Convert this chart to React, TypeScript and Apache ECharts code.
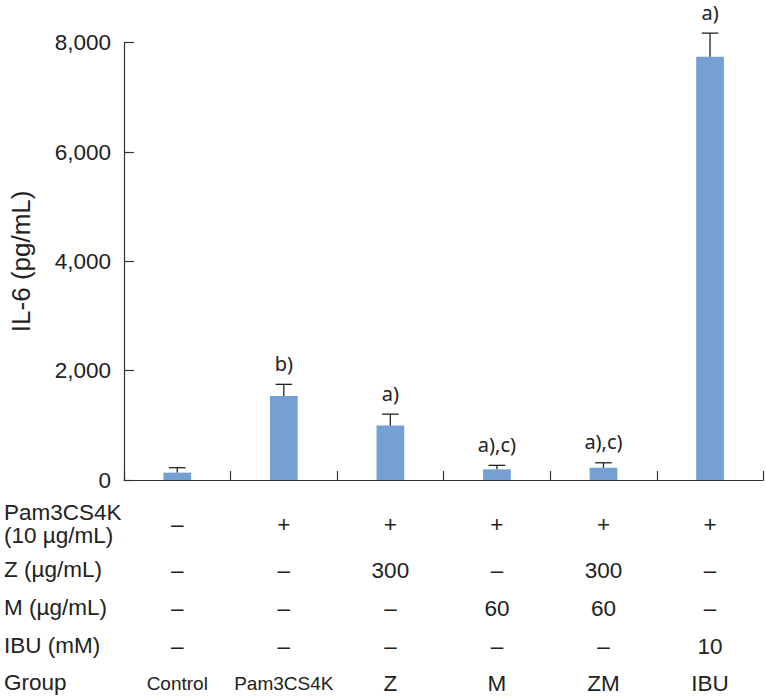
import React, { useEffect, useRef } from "react";
import * as echarts from "echarts";

const categories = ["Control", "Pam3CS4K", "Z", "M", "ZM", "IBU"];
const il6Mean = [135, 1535, 995, 195, 225, 7745];
const il6ErrTop = [225, 1750, 1205, 268, 315, 8175];
const sigLabels = ["", "b)", "a)", "a),c)", "a),c)", "a)"];
const yTicks = [0, 2000, 4000, 6000, 8000];

const rowPam = ["–", "+", "+", "+", "+", "+"];
const rowZ = ["–", "–", "300", "–", "300", "–"];
const rowM = ["–", "–", "–", "60", "60", "–"];
const rowIBU = ["–", "–", "–", "–", "–", "10"];
const rowGroup = categories;
const rowTitles = ["Pam3CS4K\n(10 µg/mL)", "Z (µg/mL)", "M (µg/mL)", "IBU (mM)", "Group"];

const FONT = "'Liberation Sans', Arial, sans-serif";
const TEXT = "#222";
const BAR = "#74a0d4";

export default function App() {
  const ref = useRef<HTMLDivElement>(null);
  useEffect(() => {
    if (!ref.current) return;
    const chart = echarts.init(ref.current, undefined, { renderer: "svg" });
    const gridTop = 42.7;
    const gridBottom = 219;
    const baseY = 699 - gridBottom;
    const rowCenters = [524, 570, 608, 646, 683];
    const tableRows = [rowPam, rowZ, rowM, rowIBU, rowGroup];
    const lh = 24;

    const tableAxes = tableRows.map((row, i) => ({
      type: "category",
      gridIndex: 0,
      position: "bottom",
      offset: rowCenters[i] - baseY - lh / 2,
      data: row,
      axisLine: { show: false },
      axisTick: { show: false },
      axisLabel: {
        show: true,
        interval: 0,
        margin: 0,
        color: TEXT,
        fontFamily: FONT,
        fontSize: 22.5,
        lineHeight: lh,
        formatter: (v: string) =>
          i === 4 && (v === "Control" || v === "Pam3CS4K") ? `{s|${v}}` : v,
        rich: { s: { fontSize: 19, fontFamily: FONT, color: TEXT, lineHeight: lh } },
      },
    }));

    const rowLabelGraphics = rowTitles.map((t, i) => ({
      type: "text",
      left: 4,
      top: i === 0 ? rowCenters[0] - 23 : rowCenters[i] - 12,
      style: {
        text: t,
        font: `22.5px ${FONT}`,
        fill: TEXT,
        lineHeight: 23,
      },
    }));

    chart.setOption({
      animation: false,
      grid: { left: 123.3, right: 2.7, top: gridTop, bottom: gridBottom, containLabel: false },
      xAxis: [
        {
          type: "category",
          data: categories,
          boundaryGap: true,
          axisLine: { lineStyle: { color: "#333", width: 1.2 } },
          axisTick: { show: true, inside: true, length: 9, lineStyle: { color: "#333", width: 1.2 } },
          axisLabel: { show: false },
        },
        ...tableAxes,
      ],
      yAxis: {
        type: "value",
        min: yTicks[0],
        max: yTicks[yTicks.length - 1],
        interval: 2000,
        name: "IL-6 (pg/mL)",
        nameLocation: "middle",
        nameGap: 90,
        nameTextStyle: { color: TEXT, fontFamily: FONT, fontSize: 26 },
        splitLine: { show: false },
        axisLine: { show: true, lineStyle: { color: "#333", width: 1.2 } },
        axisTick: { show: true, inside: true, length: 10, lineStyle: { color: "#333", width: 1.2 } },
        axisLabel: {
          color: TEXT,
          fontFamily: FONT,
          fontSize: 22.5,
          margin: 13,
          formatter: (v: number) => v.toLocaleString("en-US"),
        },
      },
      graphic: rowLabelGraphics,
      series: [
        {
          type: "bar",
          data: il6Mean,
          barWidth: "26%",
          itemStyle: { color: BAR },
          z: 2,
        },
        {
          type: "custom",
          data: il6ErrTop.map((t, i) => [i, il6Mean[i], t]),
          z: 3,
          renderItem: (params: any, api: any) => {
            const i = api.value(0);
            const top = api.coord([i, api.value(2)]);
            const bot = api.coord([i, api.value(1)]);
            const cap = 8.3;
            const lbl = sigLabels[i];
            const children: any[] = [
              {
                type: "line",
                shape: { x1: top[0], y1: bot[1], x2: top[0], y2: top[1] },
                style: { stroke: "#222", lineWidth: 1.3 },
              },
              {
                type: "line",
                shape: { x1: top[0] - cap, y1: top[1], x2: top[0] + cap, y2: top[1] },
                style: { stroke: "#222", lineWidth: 1.3 },
              },
            ];
            if (lbl) {
              children.push({
                type: "text",
                x: top[0],
                y: top[1] - 21,
                style: {
                  text: lbl,
                  font: `20px 'Noto Sans', sans-serif`,
                  fill: TEXT,
                  align: "center",
                  verticalAlign: "middle",
                },
              });
            }
            return { type: "group", children };
          },
        },
      ],
    });
    return () => chart.dispose();
  }, []);
  return (
    <div
      ref={ref}
      style={{ position: "fixed", left: 0, top: 0, width: 766, height: 699, background: "#fff" }}
    />
  );
}
